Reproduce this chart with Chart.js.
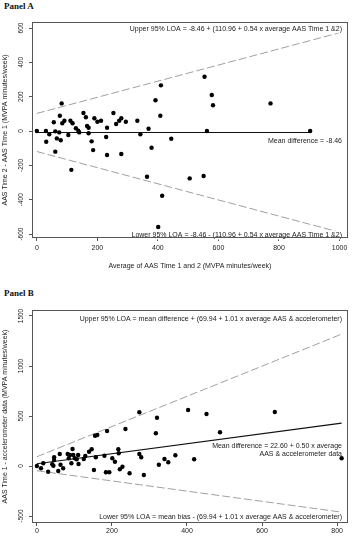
<!DOCTYPE html>
<html>
<head>
<meta charset="utf-8">
<script src="https://cdn.jsdelivr.net/npm/chart.js@4"></script>
<style>
  body { margin: 0; background: #fff; width: 354px; height: 542px; position: relative; overflow: hidden; font-family: "Liberation Sans", Arial, sans-serif; }
  .panel { position: absolute; left: 4px; font: bold 9px "Liberation Serif", "Times New Roman", serif; color: #111; }
  #wrapA { position: absolute; left: 0; top: 0; width: 354px; height: 280px; }
  #wrapB { position: absolute; left: 0; top: 280px; width: 354px; height: 262px; }
</style>
</head>
<body>
<div class="panel" style="top:1px">Panel A</div>
<div class="panel" style="top:288px">Panel B</div>
<div id="wrapA"><canvas id="chartA"></canvas></div>
<div id="wrapB"><canvas id="chartB"></canvas></div>
<script>
// Panel A: AAS time 2 vs time 1
const aAverage = [0, 30, 31, 41, 56, 61, 61, 66, 74, 76, 79, 82, 84, 91, 104, 111, 114, 118, 129, 137,
  140, 154, 162, 166, 171, 171, 181, 186, 190, 200, 212, 229, 232, 232, 253, 262, 272, 279, 279, 294,
  332, 342, 364, 369, 379, 392, 401, 408, 410, 414, 444, 505, 551, 554, 562, 578, 582, 772, 903];
const aDifference = [0, 0, -62, -19, 51, -2, -120, -43, -8, 89, -54, 161, 45, 60, -23, 60, -226, 45, 16, 2,
  -8, 105, 80, 29, 19, -13, -60, -111, 74, 54, 60, -35, 19, -140, 105, 41, 60, 74, -134, 54,
  60, -19, -266, 13, -97, 179, -559, 89, 266, -377, -45, -276, -262, 316, 0, 210, 150, 161, 0];
const aLineX = [0, 1010];
const aUpperLoa = [102.5, 577];
const aLowerLoa = [-119.4, -594];
const aMeanX = [0, 903];
const aMean = [-8.46, -8.46];
const aTicksX = [0, 200, 400, 600, 800, 1000];
const aTicksY = [-600, -400, -200, 0, 200, 400, 600];

// Panel B: AAS time 1 vs accelerometer
const bAverage = [0, 11, 17, 30, 41, 44, 46, 46, 57, 61, 63, 70, 82, 85, 88, 92, 95, 97, 101, 106,
  110, 111, 125, 129, 139, 146, 152, 155, 157, 161, 180, 184, 187, 193, 201, 208, 217, 218, 221, 228,
  236, 247, 273, 273, 278, 285, 317, 320, 325, 340, 350, 369, 403, 419, 452, 488, 634, 812];
const bDifference = [0, -23, 27, -57, 17, 3, 60, 87, -50, 120, 13, -23, 120, 77, 110, 27, 170, 110, 77, 67,
  110, 20, 70, 100, 143, 167, -40, 303, 87, 310, 103, -63, 350, -63, 77, 43, 167, 127, -33, -7,
  370, -73, 537, 120, 87, -90, 327, 483, 13, 70, 37, 107, 560, 67, 520, 337, 540, 77];
const bLineX = [0, 812];
const bUpperLoa = [92.5, 1318.7];
const bMean = [22.6, 428.6];
const bLowerLoa = [-47.3, -461.4];
const bTicksX = [0, 200, 400, 600, 800];
const bTicksY = [-500, 0, 500, 1000, 1500];

const toPoints = (xs, ys) => xs.map((x, i) => ({ x: x, y: ys[i] }));

// draws the R-style box, rotated y tick labels and the text notes
const framePlugin = {
  id: 'frame',
  afterDraw(chart, args, opts) {
    const ctx = chart.ctx;
    const a = chart.chartArea;
    const y = chart.scales.y;
    ctx.save();
    ctx.fillStyle = '#222';
    ctx.font = '6.5px "Liberation Sans", Arial, sans-serif';
    ctx.textAlign = 'center';
    ctx.textBaseline = 'middle';
    opts.yTicks.forEach(v => {
      ctx.save();
      ctx.translate(a.left - 11, y.getPixelForValue(v));
      ctx.rotate(-Math.PI / 2);
      ctx.fillText(String(v), 0, 0);
      ctx.restore();
    });
    ctx.font = '7px "Liberation Sans", Arial, sans-serif';
    ctx.textAlign = 'right';
    opts.notes.forEach(n => {
      const w = ctx.measureText(n.text).width;
      if (n.bg) {
        ctx.fillStyle = '#fff';
        ctx.fillRect(a.right - 6 - w - 2, n.y - 4.5, w + 4, 9);
      }
      ctx.fillStyle = '#222';
      ctx.fillText(n.text, a.right - 6, n.y);
    });
    ctx.strokeStyle = '#555';
    ctx.lineWidth = 1;
    ctx.strokeRect(a.left + 0.5, a.top + 0.5, a.width - 1, a.height - 1);
    ctx.restore();
  }
};

function makeChart(id, cfg) {
  const limitLine = (xs, ys) => ({
    type: 'line', data: toPoints(xs, ys), borderColor: '#a0a0a0', borderWidth: 1,
    borderDash: [8, 3], pointRadius: 0, fill: false
  });
  return new Chart(document.getElementById(id), {
    type: 'scatter',
    data: {
      datasets: [
        { type: 'scatter', data: toPoints(cfg.xs, cfg.ys), pointRadius: 2.2, pointBackgroundColor: '#000', pointBorderWidth: 0 },
        { type: 'line', data: toPoints(cfg.meanX, cfg.mean), borderColor: '#111', borderWidth: 1.2, pointRadius: 0, fill: false },
        limitLine(cfg.lineX, cfg.upper),
        limitLine(cfg.lineX, cfg.lower)
      ]
    },
    options: {
      responsive: true,
      maintainAspectRatio: false,
      animation: false,
      layout: { padding: cfg.padding },
      plugins: {
        legend: { display: false },
        tooltip: { enabled: false },
        frame: { yTicks: cfg.yTicks, notes: cfg.notes }
      },
      scales: {
        x: {
          type: 'linear', min: cfg.xRange[0], max: cfg.xRange[1],
          afterBuildTicks: s => { s.ticks = cfg.xTicks.map(v => ({ value: v })); },
          afterFit: s => { s.height = cfg.xHeight; },
          border: { display: false },
          grid: { drawOnChartArea: false, drawTicks: true, tickLength: 3, color: '#555' },
          ticks: { font: { size: 7 }, color: '#222', padding: cfg.xTickPad, maxRotation: 0, autoSkip: false,
                   callback: v => String(v) },
          title: { display: !!cfg.xTitle, text: cfg.xTitle, font: { size: 7 }, color: '#222', padding: 0 }
        },
        y: {
          type: 'linear', min: cfg.yRange[0], max: cfg.yRange[1],
          afterBuildTicks: s => { s.ticks = cfg.yTicks.map(v => ({ value: v })); },
          afterFit: s => { s.width = 32; },
          border: { display: false },
          grid: { drawOnChartArea: false, drawTicks: true, tickLength: 3, color: '#555' },
          ticks: { display: false },
          title: { display: true, text: cfg.yTitle, font: { size: 7 }, color: '#222', padding: { top: 1, bottom: 0 } }
        }
      }
    },
    plugins: [framePlugin]
  });
}

makeChart('chartA', {
  xs: aAverage, ys: aDifference, meanX: aMeanX, mean: aMean,
  lineX: aLineX, upper: aUpperLoa, lower: aLowerLoa,
  xTicks: aTicksX, yTicks: aTicksY,
  xRange: [-16, 1028], yRange: [-623, 635],
  padding: { left: 0, right: 6, top: 22, bottom: 10 }, xHeight: 32, xTickPad: 3,
  xTitle: 'Average of AAS Time 1 and 2 (MVPA minutes/week)',
  yTitle: 'AAS Time 2 - AAS Time 1 (MVPA minutes/week)',
  notes: [
    { text: 'Upper 95% LOA = -8.46 + (110.96 + 0.54 x average AAS Time 1 &2)', y: 28.7, bg: true },
    { text: 'Mean difference = -8.46', y: 140.7, bg: false },
    { text: 'Lower 95% LOA = -8.46 - (110.96 + 0.54 x average AAS Time 1 &2)', y: 235, bg: true }
  ]
});

makeChart('chartB', {
  xs: bAverage, ys: bDifference, meanX: bLineX, mean: bMean,
  lineX: bLineX, upper: bUpperLoa, lower: bLowerLoa,
  xTicks: bTicksX, yTicks: bTicksY,
  xRange: [-13, 829], yRange: [-570, 1560],
  padding: { left: 0, right: 6, top: 30, bottom: 0 }, xHeight: 19, xTickPad: 1,
  xTitle: '',
  yTitle: 'AAS Time 1 - accelerometer data (MVPA minutes/week)',
  notes: [
    { text: 'Upper 95% LOA = mean difference + (69.94 + 1.01 x average AAS & accelerometer)', y: 38.7, bg: true },
    { text: 'Mean difference = 22.60 + 0.50 x average', y: 166, bg: false },
    { text: 'AAS & accelerometer data', y: 174, bg: false },
    { text: 'Lower 95% LOA = mean bias - (69.94 + 1.01 x average AAS & accelerometer)', y: 237.3, bg: true }
  ]
});
</script>
</body>
</html>
